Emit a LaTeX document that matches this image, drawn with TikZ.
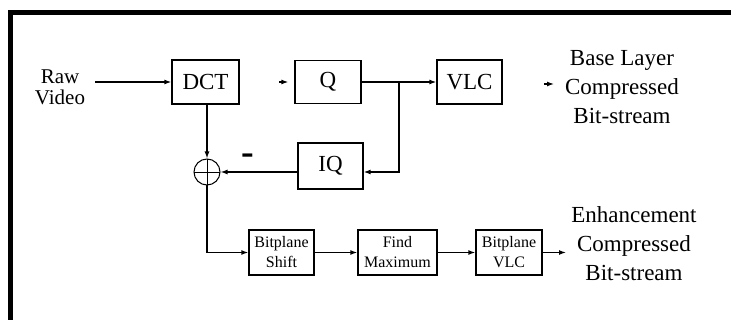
\documentclass[tikz,border=0pt]{standalone}
\usepackage{fontspec}
\setmainfont{Liberation Serif}
\usetikzlibrary{arrows.meta}
\begin{document}
\begin{tikzpicture}[x=1pt,y=-1pt, line width=1.3pt,
  box/.style={draw, rectangle, inner sep=0pt, font=\fontsize{23}{23}\selectfont},
  sbox/.style={draw, rectangle, inner sep=0pt, align=center, font=\fontsize{16}{20}\selectfont},
  arr/.style={-{Latex[length=7pt,width=5pt]}},
  lbl/.style={align=center, inner sep=0pt, anchor=north}]
\useasboundingbox (0,0) rectangle (731,320);
\fill (8,10) rectangle (731,15);
\fill (8,10) rectangle (13,320);

\node[lbl, font=\fontsize{21}{21}\selectfont] (raw) at (60,69) {Raw\\Video};
\node[box, minimum width=67pt, minimum height=44pt] (DCT) at (205.5,82) {DCT};
\node[box, minimum width=66pt, minimum height=43pt] (Q) at (328,82) {Q};
\node[box, minimum width=65pt, minimum height=44pt] (VLC) at (469.5,82) {VLC};
\node[box, minimum width=65pt, minimum height=46pt] (IQ) at (330.5,166) {IQ};
\node[draw, circle, inner sep=0pt, minimum size=26pt, line width=1pt,
  path picture={\draw[line width=0.8pt] (path picture bounding box.north) -- (path picture bounding box.south)
     (path picture bounding box.west) -- (path picture bounding box.east);}] (sum) at (207,172) {};
\node[inner sep=0pt, font=\fontsize{38}{38}\bfseries\selectfont] (minus) at (248,159) {-};
\node[sbox, minimum width=65pt, minimum height=45pt] (BS) at (281.5,252.5) {Bitplane\\Shift};
\node[sbox, minimum width=79pt, minimum height=45pt] (FM) at (397.5,252.5) {Find\\Maximum};
\node[sbox, minimum width=66pt, minimum height=45pt] (BV) at (509,252.5) {Bitplane\\VLC};
\node[lbl, font=\fontsize{23}{29}\selectfont] (base) at (622,50) {Base Layer\\Compressed\\Bit-stream};
\node[lbl, font=\fontsize{23}{29}\selectfont] (enh) at (634,206) {Enhancement\\Compressed\\Bit-stream};

\coordinate (rin) at (95,82);
\coordinate (qin) at (279,82);
\coordinate (br) at (399,82);
\coordinate (fb) at (399,172);
\coordinate (bl1) at (544,84);
\coordinate (bl2) at (554,84);
\coordinate (eout) at (566,252.5);

\draw[arr] (rin) -- (DCT.west);
\draw[arr, shorten >=6pt] (qin) -- (Q.west);
\draw[arr] (Q.east) -- (VLC.west);
\draw[arr] (br) -- (fb) -- (fb -| IQ.east);
\draw[arr] (IQ.west |- fb) -- (sum.east);
\draw[arr] (DCT.south -| sum) -- (sum.north);
\draw[arr] (sum.south) |- (BS.west);
\draw[arr] (BS.east) -- (FM.west);
\draw[arr] (FM.east) -- (BV.west);
\draw[arr] (BV.east) -- (eout);
\draw[arr] (bl1) -- (bl2);
\end{tikzpicture}
\end{document}
